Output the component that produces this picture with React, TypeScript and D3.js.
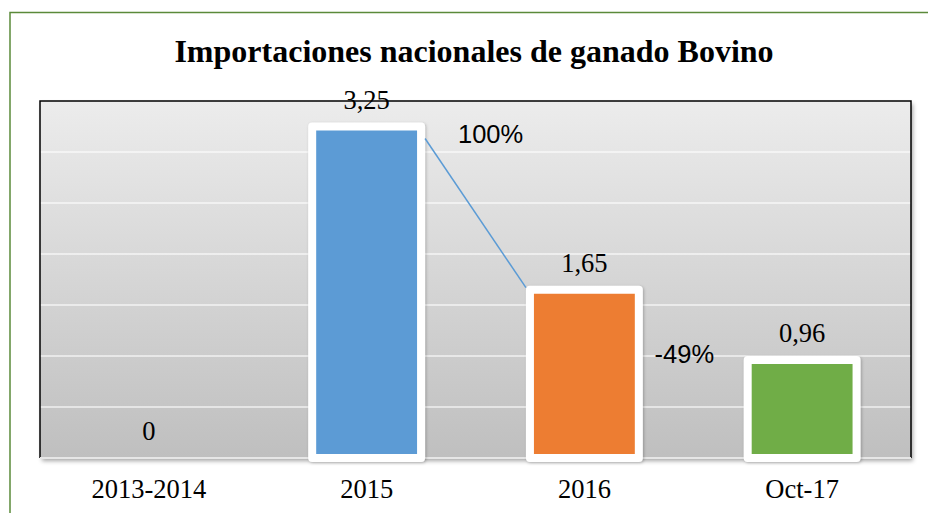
import React from "react";
import * as d3 from "d3";

// datos del grafico
const categories = ["2013-2014", "2015", "2016", "Oct-17"];
const values = [0, 3.25, 1.65, 0.96];
const valueLabels = ["0", "3,25", "1,65", "0,96"];
const barColors = ["#5b9bd5", "#5b9bd5", "#ed7d31", "#70ad47"];
const gridValues = [0.5, 1, 1.5, 2, 2.5, 3];
const changeLabels = ["100%", "-49%"];

const W = 928, H = 513;
const plot = { left: 40, top: 101, right: 911, bottom: 458 };

export default function App() {
  const x = d3.scaleBand()
    .domain(categories)
    .range([plot.left, plot.right])
    .paddingInner(0.5)
    .paddingOuter(0.25);
  const y = d3.scaleLinear().domain([0, 3.5]).range([plot.bottom, plot.top]);
  const bw = x.bandwidth();
  const cx = (c) => x(c) + bw / 2;

  // linea entre 2015 y 2016
  const line = d3.line()([
    [x("2015") + bw + 4, y(values[1]) + 12],
    [x("2016") - 4, y(values[2]) - 2],
  ]);

  return (
    <svg width={W} height={H} style={{ position: "absolute", left: 0, top: 0 }}>
      <defs>
        <linearGradient id="bg" x1="0" y1="0" x2="0" y2="1">
          <stop offset="0" stopColor="#ececec" />
          <stop offset="1" stopColor="#bfbfbf" />
        </linearGradient>
        <filter id="shadow" x="-5%" y="-5%" width="110%" height="115%">
          <feDropShadow dx="2" dy="3" stdDeviation="2" floodColor="#000" floodOpacity="0.35" />
        </filter>
        <filter id="barShadow" x="-20%" y="-20%" width="140%" height="140%">
          <feDropShadow dx="1" dy="1" stdDeviation="1.5" floodColor="#000" floodOpacity="0.25" />
        </filter>
      </defs>
      <rect x={0} y={0} width={W} height={H} fill="#fff" />
      <rect x={10} y={12.5} width={W + 10} height={H} fill="none" stroke="#5b8a3a" strokeWidth={1.5} />

      <text x={474} y={62} textAnchor="middle" fontFamily="'Liberation Serif', serif"
        fontWeight="bold" fontSize={32}>Importaciones nacionales de ganado Bovino</text>

      <rect x={plot.left} y={plot.top} width={plot.right - plot.left} height={plot.bottom - plot.top}
        fill="url(#bg)" filter="url(#shadow)" />
      {gridValues.map((v) => (
        <line key={v} x1={plot.left} x2={plot.right} y1={y(v)} y2={y(v)}
          stroke="#ffffff" strokeOpacity={0.55} strokeWidth={2} />
      ))}
      <path d={`M${plot.left},${plot.bottom}V${plot.top}H${plot.right}V${plot.bottom}`}
        fill="none" stroke="#000" strokeWidth={1.5} />
      <line x1={plot.left} x2={plot.right} y1={plot.bottom} y2={plot.bottom} stroke="#e6e6e6" strokeWidth={2} />

      {categories.map((c, i) => values[i] > 0 && (
        <rect key={c} x={x(c)} y={y(values[i])} width={bw} height={y(0) - y(values[i])}
          fill={barColors[i]} stroke="#fff" strokeWidth={8} strokeLinejoin="round" filter="url(#barShadow)" />
      ))}

      <path d={line} fill="none" stroke="#5b9bd5" strokeWidth={1.5} />

      {categories.map((c, i) => (
        <text key={c} x={cx(c)} y={y(values[i]) - 18} textAnchor="middle"
          fontFamily="'Liberation Serif', serif" fontSize={26.5}>{valueLabels[i]}</text>
      ))}

      <text x={cx("2015") + 124} y={143} textAnchor="middle" fontFamily="'Liberation Sans', sans-serif"
        fontSize={25.5}>{changeLabels[0]}</text>
      <text x={cx("2016") + 100} y={363} textAnchor="middle" fontFamily="'Liberation Sans', sans-serif"
        fontSize={25.5}>{changeLabels[1]}</text>

      {categories.map((c) => (
        <text key={c} x={cx(c)} y={498} textAnchor="middle"
          fontFamily="'Liberation Serif', serif" fontSize={26.5}>{c}</text>
      ))}
    </svg>
  );
}
